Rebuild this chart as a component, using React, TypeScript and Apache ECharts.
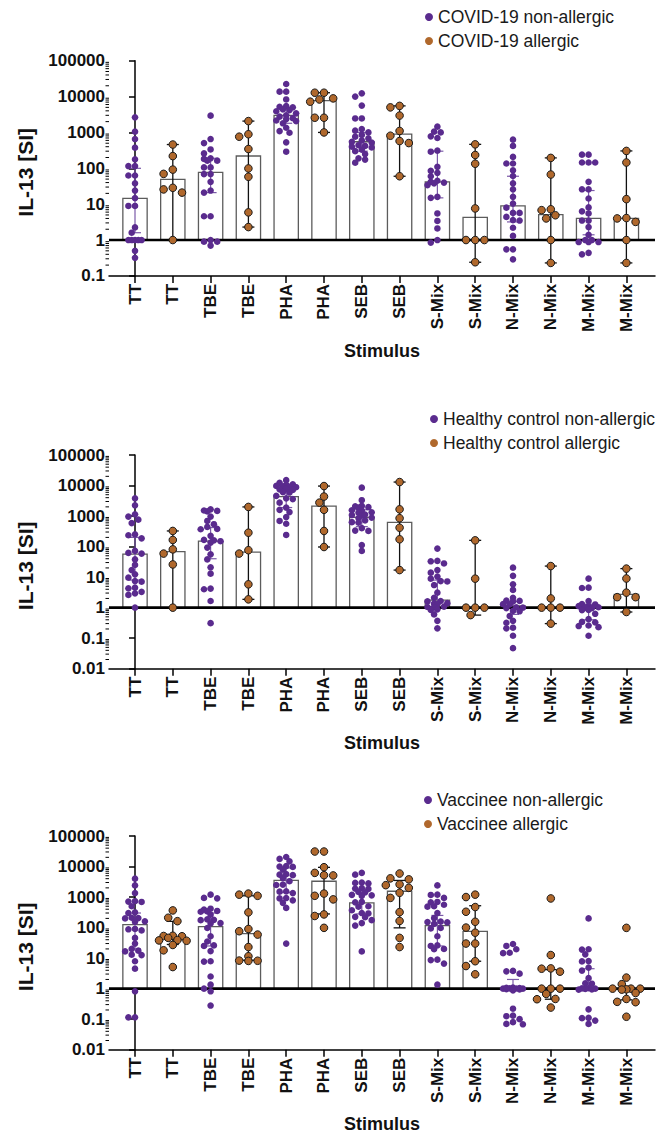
import { useEffect, useRef } from 'react';
import * as echarts from 'echarts';

// ---------- categories ----------
const stimuli = ['TT', 'TBE', 'PHA', 'SEB', 'S-Mix', 'N-Mix', 'M-Mix'];
const categories = stimuli.flatMap((s) => [s, s]);

// ---------- COVID-19 ----------
const covidNonAllergic = [
  [2630, 1050, 655, 375, 178, 115, 115, 63, 63, 38, 24, 14.8, 8.9, 8.9, 2.25, 1.6, 1, 1, 1, 1, 1, 0.5, 0.32],
  [2930, 655, 505, 335, 260, 190, 182, 163, 163, 106, 106, 69, 69, 42, 24, 21, 4.6, 4.6, 1, 0.9, 0.9, 0.7],
  [22400, 13700, 13700, 8300, 5200, 5400, 5000, 4200, 4400, 3900, 3400, 3000, 2750, 2500, 2360, 2070, 2150, 1800, 1350, 1090, 980, 530, 290],
  [12300, 10000, 5600, 2450, 2450, 1240, 1120, 1000, 850, 760, 680, 600, 550, 520, 440, 420, 400, 380, 330, 300, 250, 190, 175, 143],
  [1450, 1050, 1000, 780, 700, 310, 290, 110, 85, 75, 60, 45, 42, 40, 38, 34, 16, 15, 5.5, 3.4, 2.1, 1, 0.85],
  [630, 420, 208, 136, 136, 88, 61, 38, 26, 16, 10.4, 8, 5.7, 5.7, 4.4, 3.6, 3.5, 2.2, 1.3, 0.55, 0.55, 0.29],
  [240, 240, 145, 145, 145, 42, 26, 26, 14.4, 8.1, 6.3, 5.5, 3.5, 3.5, 2.3, 1.4, 1, 1, 0.88, 0.88, 0.88, 0.44, 0.4],
];
const covidAllergic = [
  [460, 219, 92, 70, 28.6, 25.8, 21, 1],
  [2070, 890, 760, 345, 99, 58, 5.9, 2.3],
  [12800, 12800, 8900, 8300, 7200, 2570, 2570, 1000],
  [5500, 5000, 2950, 1100, 810, 575, 505, 60],
  [465, 235, 134, 7.6, 1, 1, 1, 0.24],
  [195, 67, 7.2, 6.8, 4.9, 4, 1, 0.23],
  [305, 145, 13.8, 4.1, 4, 3.2, 1, 0.23],
];
const covidMedianNA = [14.5, 77, 3000, 550, 42, 9, 4];
const covidMedianA = [49, 220, 7700, 900, 4.3, 5.1, 4];
const covidErrNA = [[1.6, 100], [21, 190], [1800, 4500], [300, 1000], [15, 300], [3.2, 60], [1.4, 24]];
const covidErrA = [[1, 460], [2.3, 2070], [1000, 12800], [60, 5500], [0.24, 465], [0.23, 195], [0.23, 305]];

// ---------- Healthy control ----------
const healthyNonAllergic = [
  [3800, 2240, 1140, 960, 760, 590, 250, 235, 186, 72, 59, 62, 38, 25, 17, 12.3, 9.6, 7.4, 7.1, 4.5, 4.3, 3.3, 2.95, 2.6, 1],
  [1660, 1470, 1420, 1520, 960, 690, 540, 440, 370, 380, 225, 165, 160, 150, 135, 93, 56, 38, 21, 13, 4, 4.2, 1.65, 0.31],
  [15000, 12300, 11000, 10600, 9400, 9100, 8800, 9700, 7500, 7200, 7800, 5900, 6100, 4600, 3800, 3600, 2750, 1900, 1600, 1350, 930, 690, 560, 240],
  [8500, 3300, 2140, 2080, 1900, 1950, 1550, 1500, 1290, 1330, 1080, 1040, 1120, 890, 860, 720, 610, 630, 400, 325, 335, 112, 72],
  [86, 34, 33, 28, 17, 14, 10.4, 8.9, 7.4, 7.2, 5.5, 3.1, 2.1, 1.65, 1.6, 1.35, 1.3, 1.4, 1.05, 1.02, 1.08, 0.88, 0.85, 0.6, 0.37, 0.21],
  [20.4, 11, 5.8, 3.8, 2.1, 1.66, 1.6, 1.7, 1.3, 1.27, 1, 1.03, 0.97, 0.78, 0.76, 0.53, 0.37, 0.32, 0.22, 0.21, 0.12, 0.047],
  [8.9, 4.5, 4.4, 1.65, 1.3, 1.27, 1.15, 1.12, 1, 1.03, 0.97, 0.85, 0.83, 0.63, 0.42, 0.34, 0.33, 0.25, 0.26, 0.23, 0.12],
];
const healthyAllergic = [
  [325, 165, 81, 59, 26, 1],
  [1990, 285, 76, 59, 5.8, 1.87],
  [9600, 4350, 2750, 1600, 325, 97],
  [13000, 1660, 850, 415, 173, 17],
  [160, 8.9, 1, 1, 1, 0.57],
  [23, 2, 1, 1, 1, 0.3],
  [19, 9, 3.1, 2.2, 2.2, 0.72],
];
const healthyMedianNA = [57, 150, 4300, 900, 1.75, 1.15, 1];
const healthyMedianA = [68, 66, 2100, 620, 1, 1, 2.7];
const healthyErrNA = [[8, 200], [40, 420], [1900, 9000], [450, 1600], [1, 8], [0.6, 1.6], [0.4, 1.3]];
const healthyErrA = [[1, 325], [1.87, 1990], [97, 9600], [17, 13000], [0.57, 160], [0.3, 23], [0.72, 19]];

// ---------- Vaccinee ----------
const vaccineeNonAllergic = [
  [4000, 2400, 1350, 710, 690, 730, 500, 315, 300, 205, 200, 210, 160, 155, 90, 88, 81, 46, 30, 20, 17.5, 16.6, 13, 12.6, 7.9, 4.5, 0.82, 0.115, 0.115],
  [1200, 935, 910, 415, 390, 340, 330, 350, 265, 180, 175, 185, 140, 136, 97, 52, 35, 26, 25, 17, 7.9, 7.7, 2.5, 1.35, 1, 0.82, 0.28],
  [20500, 17700, 14800, 10000, 9700, 10300, 7900, 5400, 5200, 5600, 4200, 3300, 2560, 2480, 1540, 1500, 1350, 930, 900, 780, 645, 440, 30],
  [6200, 5400, 2900, 2800, 3000, 1900, 1850, 1950, 1470, 1430, 1140, 1100, 1180, 690, 670, 500, 485, 370, 300, 290, 225, 218, 175, 140, 116, 16.6],
  [2400, 1200, 1170, 935, 690, 670, 560, 500, 485, 300, 205, 152, 148, 156, 132, 97, 94, 52, 26, 25, 20, 19.5, 8.9, 8.6, 6.6, 1.35],
  [29, 25, 19.5, 15, 14.5, 3.8, 3.7, 3.1, 1.08, 1.04, 1, 1, 0.97, 1.02, 0.95, 1.06, 0.99, 1.01, 0.88, 0.22, 0.13, 0.125, 0.1, 0.08, 0.07, 0.068],
  [200, 19.5, 19, 13.3, 8, 7.8, 4.9, 3.9, 2.2, 1.5, 1.45, 1.04, 1, 0.98, 1.02, 0.95, 0.93, 0.21, 0.11, 0.108, 0.09, 0.07],
];
const vaccineeAllergic = [
  [365, 210, 162, 53, 52, 54, 46, 38, 37, 39, 27, 18, 5.1],
  [1300, 1200, 1100, 315, 90, 76, 59, 23, 11.5, 8.2, 8.1, 8.3],
  [31000, 31000, 9500, 6200, 5200, 5100, 1300, 1100, 840, 270, 240, 98],
  [5900, 4100, 3800, 2600, 2450, 2000, 1380, 940, 320, 165, 46, 23],
  [1200, 1000, 470, 330, 155, 100, 68, 30, 30, 7.9, 5.5, 2.95],
  [900, 12.6, 4.6, 4.5, 3.6, 1, 1, 1, 0.67, 0.46, 0.45, 0.24],
  [98, 2.3, 1.4, 1, 1, 1, 0.95, 0.93, 0.72, 0.46, 0.37, 0.36, 0.12],
];
const vaccineeMedianNA = [125, 107, 3500, 640, 116, 1, 1];
const vaccineeMedianA = [47, 63, 3300, 1550, 75, 1, 0.95];
const vaccineeErrNA = [[20, 300], [25, 300], [1400, 9000], [280, 1400], [25, 250], [1, 2], [1, 4.5]];
const vaccineeErrA = [[28, 160], [8.5, 1100], [280, 9400], [98, 3500], [7.9, 520], [0.45, 4.2], [0.43, 1.1]];

// ---------- styling / layout ----------
const PURPLE = '#5a2b8e';
const PURPLE_ERR = '#7b5aa8';
const BROWN = '#b0682c';
const FONT = "'Liberation Sans', Arial, Helvetica, sans-serif";
const GRID_LEFT = 109;
const GRID_WIDTH = 546;
const X_MIN = -0.688;
const X_MAX = 13.757;
const BAR_HALF = 0.3215;
const CAP_HALF = 6;
const DOT_NA = 6.6;
const DOT_A = 7.6;

const panels = [
  {
    names: ['COVID-19 non-allergic', 'COVID-19 allergic'],
    na: covidNonAllergic, a: covidAllergic,
    medNA: covidMedianNA, medA: covidMedianA, errNA: covidErrNA, errA: covidErrA,
    minExp: -1, top: 60.7, height: 215.2, legendLeft: 425, legendTop: 8, stimY: 351,
  },
  {
    names: ['Healthy control non-allergic', 'Healthy control allergic'],
    na: healthyNonAllergic, a: healthyAllergic,
    medNA: healthyMedianNA, medA: healthyMedianA, errNA: healthyErrNA, errA: healthyErrA,
    minExp: -2, top: 455, height: 213.7, legendLeft: 430, legendTop: 410, stimY: 743,
  },
  {
    names: ['Vaccinee non-allergic', 'Vaccinee allergic'],
    na: vaccineeNonAllergic, a: vaccineeAllergic,
    medNA: vaccineeMedianNA, medA: vaccineeMedianA, errNA: vaccineeErrNA, errA: vaccineeErrA,
    minExp: -2, top: 836, height: 213.7, legendLeft: 424, legendTop: 791, stimY: 1124,
  },
];

// Horizontal spread of points with similar values (beeswarm in pixel space,
// limited to a band around the column centre; overlaps allowed once it is full).
function swarmOffsets(values: number[], pxPerUnit: number, pxPerDecade: number, step: number, maxOff: number): number[] {
  const placed: { x: number; y: number }[] = [];
  const res = new Array(values.length).fill(0);
  const order = values.map((_, i) => i).sort((p, q) => values[q] - values[p]);
  const cands: number[] = [0];
  for (let m = 1; m * step * 0.5 <= maxOff + 0.01; m++) cands.push(-m * step * 0.5, m * step * 0.5);
  const thr = step * 0.82;
  for (const i of order) {
    const y = Math.log10(values[i]) * pxPerDecade;
    let chosen = 0;
    let best = -1;
    let found = false;
    for (const c of cands) {
      let dmin = Infinity;
      for (const p of placed) dmin = Math.min(dmin, Math.hypot(p.x - c, p.y - y));
      if (dmin >= thr) { chosen = c; found = true; break; }
      if (dmin > best + 0.5) { best = dmin; chosen = c; }
    }
    if (!found && best < 0) chosen = 0;
    placed.push({ x: chosen, y });
    res[i] = chosen / pxPerUnit;
  }
  return res;
}

function minorValues(minExp: number): number[] {
  const out: number[] = [];
  for (let e = minExp; e < 5; e++) {
    for (let m = 2; m <= 9; m++) out.push(m * Math.pow(10, e));
  }
  return out;
}

const fmtLog = (v: number) => {
  const e = Math.round(Math.log10(v));
  return e >= 0 ? String(Math.pow(10, e)) : Math.pow(10, e).toFixed(-e);
};

function buildOption() {
  const grid: any[] = [];
  const xAxis: any[] = [];
  const yAxis: any[] = [];
  const series: any[] = [];
  const legend: any[] = [];
  const graphic: any[] = [];
  const pxPerUnit = GRID_WIDTH / (X_MAX - X_MIN);

  panels.forEach((p, k) => {
    const decades = 5 - p.minExp;
    const pxPerDecade = p.height / decades;
    grid.push({ left: GRID_LEFT, top: p.top, width: GRID_WIDTH, height: p.height });
    xAxis.push({
      gridIndex: k, type: 'value', min: X_MIN, max: X_MAX,
      axisLine: { show: true, onZero: false, lineStyle: { color: '#000', width: 1.5 } },
      axisTick: { show: true, customValues: categories.map((_, i) => i), length: 7, lineStyle: { color: '#000', width: 1.5 } },
      axisLabel: {
        customValues: categories.map((_, i) => i), rotate: 90, margin: 8,
        formatter: (v: number) => categories[Math.round(v)] ?? '',
        fontSize: 17, fontWeight: 'bold', color: '#111', fontFamily: FONT,
      },
      splitLine: { show: false },
    });
    yAxis.push({
      gridIndex: k, type: 'log', logBase: 10, min: Math.pow(10, p.minExp), max: 100000, splitNumber: decades,
      axisLine: { show: true, lineStyle: { color: '#000', width: 1.5 } },
      axisTick: { show: true, length: 6, lineStyle: { color: '#000', width: 1.5 } },
      axisLabel: { formatter: fmtLog, fontSize: 17, fontWeight: 'bold', color: '#111', fontFamily: FONT, margin: 4 },
      splitLine: { show: false },
    });

    // bars (median) with whiskers
    const barData: number[][] = [];
    for (let s = 0; s < stimuli.length; s++) {
      barData.push([2 * s, p.medNA[s], p.errNA[s][0], p.errNA[s][1], 0]);
      barData.push([2 * s + 1, p.medA[s], p.errA[s][0], p.errA[s][1], 1]);
    }
    series.push({
      type: 'custom', xAxisIndex: k, yAxisIndex: k, z: 1, clip: false, silent: true,
      data: barData,
      renderItem: (_params: any, api: any) => {
        const i = api.value(0), med = api.value(1), lo = api.value(2), hi = api.value(3), g = api.value(4);
        const base = api.coord([i - BAR_HALF, 1]);
        const topR = api.coord([i + BAR_HALF, med]);
        const yTop = Math.min(base[1], topR[1]);
        const h = Math.abs(base[1] - topR[1]);
        const c = api.coord([i, 1])[0];
        const yLo = api.coord([i, lo])[1];
        const yHi = api.coord([i, hi])[1];
        const col = g === 1 ? '#111' : PURPLE_ERR;
        const lw = g === 1 ? 1.3 : 1.2;
        return {
          type: 'group',
          children: [
            { type: 'rect', shape: { x: base[0], y: yTop, width: topR[0] - base[0], height: h }, style: { fill: '#fff', stroke: '#5c5c5c', lineWidth: 1.3 } },
            { type: 'line', shape: { x1: c, y1: yLo, x2: c, y2: yHi }, style: { stroke: col, lineWidth: lw } },
            { type: 'line', shape: { x1: c - CAP_HALF, y1: yLo, x2: c + CAP_HALF, y2: yLo }, style: { stroke: col, lineWidth: lw } },
            { type: 'line', shape: { x1: c - CAP_HALF, y1: yHi, x2: c + CAP_HALF, y2: yHi }, style: { stroke: col, lineWidth: lw } },
          ],
        };
      },
    });

    // reference line at SI = 1
    series.push({
      type: 'custom', xAxisIndex: k, yAxisIndex: k, z: 2, clip: false, silent: true,
      data: [[0, 1]],
      renderItem: (_params: any, api: any) => {
        const a = api.coord([X_MIN, 1]);
        const b = api.coord([X_MAX, 1]);
        return { type: 'line', shape: { x1: a[0], y1: a[1], x2: b[0], y2: b[1] }, style: { stroke: '#000', lineWidth: 2.6 } };
      },
    });

    // minor log ticks
    series.push({
      type: 'custom', xAxisIndex: k, yAxisIndex: k, z: 2, clip: false, silent: true,
      data: minorValues(p.minExp).map((v) => [X_MIN, v]),
      renderItem: (_params: any, api: any) => {
        const q = api.coord([api.value(0), api.value(1)]);
        return { type: 'line', shape: { x1: q[0] - 3.5, y1: q[1], x2: q[0], y2: q[1] }, style: { stroke: '#000', lineWidth: 1 } };
      },
    });

    // individual donors
    const ptsNA: number[][] = [];
    const ptsA: number[][] = [];
    for (let s = 0; s < stimuli.length; s++) {
      const offNA = swarmOffsets(p.na[s], pxPerUnit, pxPerDecade, DOT_NA, 13);
      p.na[s].forEach((v, j) => ptsNA.push([2 * s + offNA[j], v]));
      const offA = swarmOffsets(p.a[s], pxPerUnit, pxPerDecade, 9.2, 14);
      p.a[s].forEach((v, j) => ptsA.push([2 * s + 1 + offA[j], v]));
    }
    series.push({
      type: 'scatter', name: p.names[0], xAxisIndex: k, yAxisIndex: k, z: 5, silent: true,
      symbol: 'circle', symbolSize: DOT_NA, data: ptsNA,
      itemStyle: { color: PURPLE, opacity: 1 },
    });
    series.push({
      type: 'scatter', name: p.names[1], xAxisIndex: k, yAxisIndex: k, z: 6, silent: true,
      symbol: 'circle', symbolSize: DOT_A, data: ptsA,
      itemStyle: { color: BROWN, borderColor: '#1a1a1a', borderWidth: 1, opacity: 1 },
    });

    legend.push({
      data: p.names, orient: 'vertical', left: p.legendLeft, top: p.legendTop, padding: 0,
      icon: 'circle', itemWidth: 8, itemHeight: 8, itemGap: 6, itemStyle: { borderWidth: 0 },
      selectedMode: false,
      textStyle: { fontSize: 17.5, color: '#1a1a1a', fontFamily: FONT, lineHeight: 16 },
    });

    graphic.push({
      type: 'text', x: 25, y: p.top + p.height / 2 + 4, rotation: Math.PI / 2,
      style: { text: 'IL-13 [SI]', fontSize: 21, fontWeight: 'bold', fill: '#111', fontFamily: FONT, align: 'center', verticalAlign: 'middle', textAlign: 'center', textVerticalAlign: 'middle' },
    });
    graphic.push({
      type: 'text', x: GRID_LEFT + GRID_WIDTH / 2, y: p.stimY,
      style: { text: 'Stimulus', fontSize: 18, fontWeight: 'bold', fill: '#111', fontFamily: FONT, align: 'center', verticalAlign: 'middle', textAlign: 'center', textVerticalAlign: 'middle' },
    });
  });

  return {
    animation: false,
    backgroundColor: '#fff',
    textStyle: { fontFamily: FONT },
    grid, xAxis, yAxis, series, legend, graphic,
  };
}

export default function App() {
  const ref = useRef<HTMLDivElement>(null);
  useEffect(() => {
    if (!ref.current) return;
    const chart = echarts.init(ref.current, undefined, { renderer: 'svg' });
    chart.setOption(buildOption() as any);
    return () => chart.dispose();
  }, []);
  return <div ref={ref} style={{ position: 'absolute', left: 0, top: 0, width: 662, height: 1134 }} />;
}
